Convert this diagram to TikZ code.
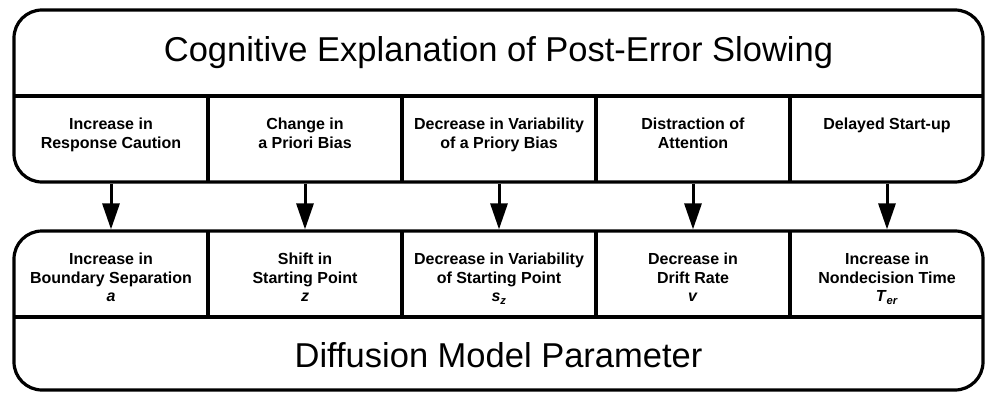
\documentclass[tikz,border=0pt]{standalone}
\usepackage{fontspec}
\setmainfont{Liberation Sans}
\usetikzlibrary{arrows.meta}

\begin{document}
\begin{tikzpicture}[x=1pt,y=1pt,
		frame/.style={draw,line width=3.2pt,rounded corners=28pt,minimum width=969pt,inner sep=0pt},
		cell/.style={anchor=north,align=center,inner sep=0pt,font=\fontsize{16}{18.5}\selectfont\bfseries},
		big/.style={font=\fontsize{34.5}{40}\selectfont},
		cause/.style={line width=3pt,-{Triangle[length=26pt,width=17pt]}}]
	\useasboundingbox (0,0) rectangle (986,400);
	
	% Define the two frames
	\node[frame,minimum height=172pt] (cog) at (498.5,304) {};
	\node[frame,minimum height=159pt] (dm) at (498.5,89.5) {};
	
	% Draw the dividers
	\draw[line width=3.2pt] (14,304) -- (983,304);
	\draw[line width=3.2pt] (14,83) -- (983,83);
	\foreach \x in {208,402,596,790}{
		\draw[line width=3.2pt] (\x,304) -- (\x,218);
		\draw[line width=3.2pt] (\x,169) -- (\x,83);
	}
	
	% Titles
	\node[big] (cogtitle) at (498.5,347) {Cognitive Explanation of Post-Error Slowing};
	\node[big] (dmtitle) at (498.5,45) {Diffusion Model Parameter};
	
	% Cognitive explanations
	\node[cell] (t1) at (111,282) {Increase in\\Response Caution};
	\node[cell] (t2) at (305,282) {Change in\\a Priori Bias};
	\node[cell] (t3) at (499,282) {Decrease in Variability\\of a Priory Bias};
	\node[cell] (t4) at (693,282) {Distraction of\\Attention};
	\node[cell] (t5) at (887,282) {Delayed Start-up};
	
	% Diffusion model parameters
	\node[cell] (b1) at (111,147) {Increase in\\Boundary Separation\\\textit{a}};
	\node[cell] (b2) at (305,147) {Shift in\\Starting Point\\\textit{z}};
	\node[cell] (b3) at (499,147) {Decrease in Variability\\of Starting Point\\\textit{s}\textsubscript{\textit{z}}};
	\node[cell] (b4) at (693,147) {Decrease in\\Drift Rate\\\textit{v}};
	\node[cell] (b5) at (887,147) {Increase in\\Nondecision Time\\\textit{T}\textsubscript{\textit{er}}};
	
	% Draw the links
	\foreach \i in {1,...,5}
		\draw[cause] (t\i |- cog.south) -- (b\i |- dm.north);
\end{tikzpicture}
\end{document}
